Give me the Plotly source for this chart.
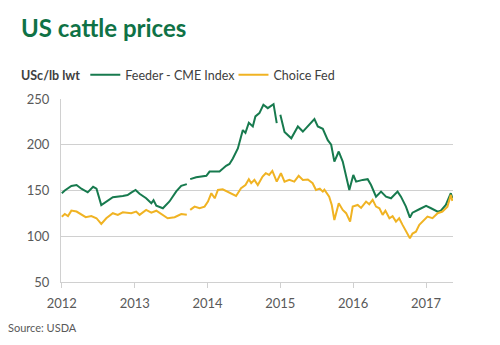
import plotly.graph_objects as go

# Feeder - CME Index (USc/lb lwt); None marks a gap in the series
feeder_dates = [
    "2012-01-01", "2012-01-16", "2012-02-18", "2012-03-15", "2012-04-08", "2012-04-30",
    "2012-05-10", "2012-06-06", "2012-06-23", "2012-07-17", "2012-08-11", "2012-09-13",
    "2012-11-02", "2012-11-26", "2012-12-14", "2013-01-05", "2013-01-25", "2013-02-27",
    "2013-03-25", "2013-04-05", "2013-04-19", "2013-05-22", "2013-06-24", "2013-07-28",
    "2013-08-22", "2013-09-19", "2013-09-30", "2013-10-06", "2013-11-05", "2013-12-26",
    "2014-01-11", "2014-03-02", "2014-04-04", "2014-04-21", "2014-05-08", "2014-06-02",
    "2014-06-27", "2014-07-10", "2014-07-27", "2014-08-16", "2014-08-29", "2014-09-18",
    "2014-10-08", "2014-10-30", "2014-11-28", "2014-12-14", "2014-12-20", "2015-01-01",
    "2015-01-22", "2015-02-25", "2015-03-30", "2015-04-24", "2015-06-21", "2015-07-08",
    "2015-08-02", "2015-08-27", "2015-09-13", "2015-09-29", "2015-10-21", "2015-11-10",
    "2015-11-27", "2015-12-13", "2016-01-02", "2016-01-16", "2016-02-18", "2016-03-14",
    "2016-03-31", "2016-04-25", "2016-05-20", "2016-06-14", "2016-07-09", "2016-08-11",
    "2016-08-28", "2016-09-22", "2016-10-12", "2016-10-25", "2016-11-28", "2017-01-01",
    "2017-01-26", "2017-02-28", "2017-03-16", "2017-04-10", "2017-05-05", "2017-05-13",
]
feeder_values = [
    147, 150, 155, 156, 152, 149,
    148, 154, 152, 134, 138, 142.6,
    144, 145, 147.7, 150.6, 146.5, 141.5,
    136, 139.5, 133.5, 130.6, 138, 149,
    155, 157, None, 162.4, 164.5, 166,
    170.7, 170.7, 177, 179, 185, 196,
    216, 213, 224, 220, 231, 234.6,
    243.7, 240, 244.4, 223.6, None, 232.7,
    214, 207, 220, 214.4, 228, 220,
    217.4, 205, 200, 181.6, 192.6, 181.6,
    165, 150.6, 167, 159.7, 161.6, 162.4,
    156, 143.3, 148.8, 143.3, 141.5, 148.8,
    143.3, 132.4, 120.4, 125.8, 129.5, 133.2,
    130.6, 126.9, 127.9, 134.2, 147, 141.5,
]

# Choice Fed (USc/lb lwt)
choice_dates = [
    "2012-01-01", "2012-01-16", "2012-02-01", "2012-02-18", "2012-03-15", "2012-04-08",
    "2012-04-30", "2012-05-28", "2012-06-23", "2012-07-17", "2012-08-11", "2012-09-13",
    "2012-10-08", "2012-11-02", "2012-12-14", "2013-01-08", "2013-01-25", "2013-02-27",
    "2013-03-25", "2013-04-19", "2013-05-22", "2013-06-15", "2013-07-20", "2013-08-22",
    "2013-09-19", "2013-09-30", "2013-10-06", "2013-10-28", "2013-11-22", "2013-12-17",
    "2014-01-03", "2014-01-20", "2014-02-06", "2014-02-22", "2014-03-18", "2014-04-21",
    "2014-05-24", "2014-06-18", "2014-07-10", "2014-07-27", "2014-08-08", "2014-08-24",
    "2014-09-10", "2014-10-04", "2014-10-20", "2014-11-06", "2014-11-22", "2014-12-14",
    "2015-01-04", "2015-01-22", "2015-02-15", "2015-03-12", "2015-04-03", "2015-04-24",
    "2015-05-19", "2015-06-12", "2015-06-29", "2015-07-18", "2015-08-02", "2015-08-10",
    "2015-09-03", "2015-09-16", "2015-09-29", "2015-10-21", "2015-11-10", "2015-11-27",
    "2015-12-17", "2015-12-30", "2016-01-24", "2016-02-10", "2016-03-06", "2016-03-22",
    "2016-04-08", "2016-04-25", "2016-05-12", "2016-05-28", "2016-06-11", "2016-07-01",
    "2016-07-17", "2016-08-03", "2016-08-19", "2016-09-05", "2016-09-22", "2016-10-12",
    "2016-10-25", "2016-11-11", "2016-11-28", "2016-12-14", "2017-01-08", "2017-02-02",
    "2017-02-28", "2017-03-24", "2017-04-18", "2017-05-05", "2017-05-13",
]
choice_values = [
    121.4, 124.3, 122, 128, 127, 123.4,
    120.8, 122, 119.7, 113.5, 119.7, 125.2,
    123.4, 126.2, 125.2, 127, 123.4, 128.8,
    125.8, 127.9, 123.4, 119.7, 120.8, 124.3,
    123.4, None, 128.8, 132.4, 130.6, 132.4,
    137.9, 147, 141.5, 150.6, 151.3, 147.7,
    144, 152.5, 156, 162.4, 158, 161.6,
    156, 165.2, 168.9, 167, 171.4, 159.7,
    168.9, 159.7, 161.6, 159.7, 166, 161.6,
    162, 158, 150.6, 152, 148.8, 151,
    143.3, 134.2, 117.8, 136, 128.8, 125.2,
    116, 132.4, 134.2, 131, 137.9, 135,
    139.7, 132.4, 130.6, 123.4, 128, 119.7,
    122, 116, 119.7, 112.4, 105, 97.8,
    103, 105, 112.4, 116, 121.4, 119.7,
    125.2, 127, 132.4, 145.2, 138.6,
]

year_ticks = ["2012-01-01", "2013-01-01", "2014-01-01", "2015-01-01", "2016-01-01", "2017-01-01"]
year_labels = ["2012", "2013", "2014", "2015", "2016", "2017"]

GREEN = "#177a4e"
YELLOW = "#f0b323"
FONT = "Lato"

fig = go.Figure()
fig.add_trace(go.Scatter(x=feeder_dates, y=feeder_values, mode="lines",
                         name="Feeder - CME Index", connectgaps=False, legend="legend",
                         line=dict(color=GREEN, width=2)))
fig.add_trace(go.Scatter(x=choice_dates, y=choice_values, mode="lines",
                         name="Choice Fed", connectgaps=False, legend="legend2",
                         line=dict(color=YELLOW, width=2)))

legend_common = dict(orientation="h", yanchor="middle", y=1.13, xanchor="left",
                     font=dict(size=12.5, color="#404040", family=FONT), itemwidth=30,
                     bgcolor="rgba(0,0,0,0)")

fig.update_layout(
    width=500, height=345,
    margin=dict(l=61, r=47, t=99, b=63),
    paper_bgcolor="white", plot_bgcolor="white",
    font=dict(family=FONT, color="#595959", size=13),
    showlegend=True,
    legend=dict(x=0.062, **legend_common),
    legend2=dict(x=0.44, **legend_common),
    xaxis=dict(range=["2011-12-28", "2017-05-16"], tickvals=year_ticks, ticktext=year_labels,
               showgrid=False, showline=True, linecolor="#d0d0d0", linewidth=1,
               ticks="outside", ticklen=5, tickcolor="#d0d0d0", ticklabelstandoff=4,
               tickfont=dict(size=13, color="#595959"), zeroline=False),
    yaxis=dict(range=[50, 250], tickvals=[50, 100, 150, 200, 250],
               showgrid=True, gridcolor="#d0d0d0", gridwidth=1,
               showline=True, linecolor="#d0d0d0", linewidth=1,
               ticks="", ticklabelstandoff=8,
               tickfont=dict(size=13, color="#595959"), zeroline=False),
    annotations=[
        dict(text="<b>US cattle prices</b>", xref="paper", yref="paper",
             x=-0.108, y=1.39, xanchor="left", yanchor="middle", showarrow=False,
             font=dict(size=24, color="#0f7246", family=FONT)),
        dict(text="<b>USc/lb lwt</b>", xref="paper", yref="paper",
             x=-0.108, y=1.13, xanchor="left", yanchor="middle", showarrow=False,
             font=dict(size=12.5, color="#404040", family=FONT)),
        dict(text="Source: USDA", xref="paper", yref="paper",
             x=-0.14, y=-0.25, xanchor="left", yanchor="middle", showarrow=False,
             font=dict(size=11, color="#595959", family=FONT)),
    ],
)

fig.write_html("out.html")
